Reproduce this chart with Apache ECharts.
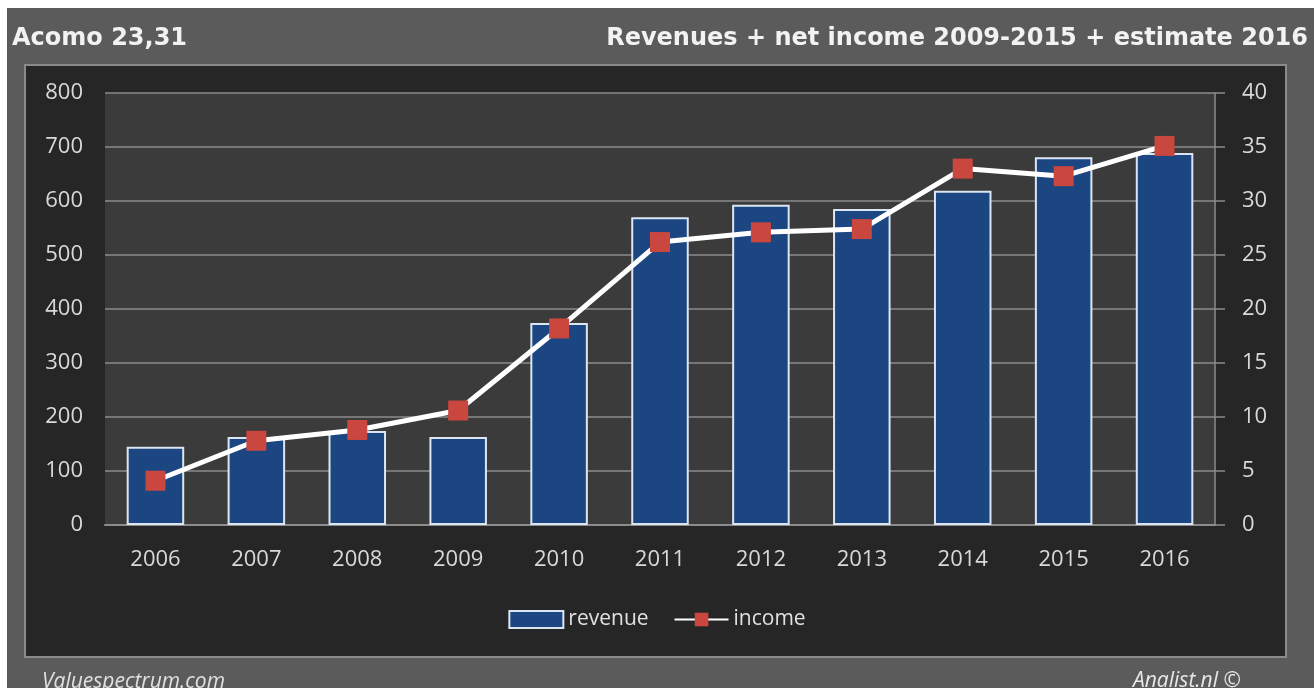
<!DOCTYPE html>
<html><head><meta charset="utf-8">
<script src="https://cdn.jsdelivr.net/npm/echarts@6/dist/echarts.min.js"></script>
<style>html,body{margin:0;padding:0;background:#fff}#c{width:1314px;height:688px}</style>
</head><body><div id="c"></div>
<script>
const years = ['2006','2007','2008','2009','2010','2011','2012','2013','2014','2015','2016'];
const revenue = [145, 163, 174, 163, 374, 570, 593, 585, 619, 681, 689];
const income = [4.1, 7.8, 8.8, 10.6, 18.2, 26.2, 27.1, 27.4, 33.0, 32.3, 35.1];
const leftTicks = [0, 100, 200, 300, 400, 500, 600, 700, 800];
const rightTicks = [0, 5, 10, 15, 20, 25, 30, 35, 40];

const chart = echarts.init(document.getElementById('c'));
const font = '"Open Sans", "DejaVu Sans", sans-serif';
const titleFont = '"DejaVu Sans", sans-serif';
chart.setOption({
  backgroundColor: '#ffffff',
  textStyle: { fontFamily: font },
  graphic: [
    { type: 'rect', z: -10, shape: { x: 7, y: 8, width: 1307, height: 680 }, style: { fill: '#5b5b5b' } },
    { type: 'rect', z: -9, shape: { x: 25, y: 65, width: 1261, height: 592 }, style: { fill: '#262626', stroke: '#8a8a8a', lineWidth: 2 } },
    { type: 'text', x: 12, y: 39, style: { text: 'Acomo 23,31', fill: '#f2f2f2', font: 'bold 24px ' + titleFont, verticalAlign: 'middle' } },
    { type: 'text', x: 1308, y: 39, style: { text: 'Revenues + net income 2009-2015 + estimate 2016', fill: '#f2f2f2', font: 'bold 24px ' + titleFont, align: 'right', verticalAlign: 'middle' } },
    { type: 'text', x: 42, y: 682, style: { text: 'Valuespectrum.com', fill: '#e0e0e0', font: 'italic 21px ' + font, verticalAlign: 'middle' } },
    { type: 'text', x: 1133, y: 681, style: { text: 'Analist.nl ©', fill: '#e8e8e8', font: 'italic 21px ' + font, verticalAlign: 'middle' } }
  ],
  legend: {
    top: 604, left: 'center', itemGap: 25, itemWidth: 54, itemHeight: 17,
    textStyle: { color: '#e0e0e0', fontSize: 21, fontFamily: font },
    data: [
      { name: 'revenue', icon: 'rect' },
      { name: 'income' }
    ]
  },
  grid: { left: 105, right: 99, top: 93, bottom: 163, show: true, backgroundColor: '#3b3b3b', borderWidth: 0 },
  xAxis: {
    type: 'category', data: years,
    axisLine: { lineStyle: { color: '#8c8c8c', width: 2 } },
    axisTick: { show: false },
    axisLabel: { color: '#d9d9d9', fontSize: 22, margin: 24 }
  },
  yAxis: [
    { type: 'value', min: 0, max: 800, interval: 100,
      axisLine: { show: false }, axisTick: { show: false },
      axisLabel: { color: '#d9d9d9', fontSize: 22, margin: 22 },
      splitLine: { lineStyle: { color: '#8c8c8c', width: 1.5 } } },
    { type: 'value', min: 0, max: 40, interval: 5, position: 'right',
      axisLine: { show: true, lineStyle: { color: '#8c8c8c', width: 1.5 } },
      axisTick: { show: true, length: 10, lineStyle: { color: '#8c8c8c', width: 1.5 } },
      axisLabel: { color: '#d9d9d9', fontSize: 22, margin: 27 },
      splitLine: { show: false } }
  ],
  series: [
    { name: 'revenue', type: 'bar', data: revenue, barWidth: '57%', yAxisIndex: 0,
      itemStyle: { color: '#1c4682', borderColor: '#dbe6f2', borderWidth: 2 } },
    { name: 'income', type: 'line', data: income, yAxisIndex: 1,
      symbol: 'rect', symbolSize: 20,
      lineStyle: { color: '#ffffff', width: 5 },
      itemStyle: { color: '#c9473f', borderWidth: 0 } }
  ]
});
</script></body></html>
